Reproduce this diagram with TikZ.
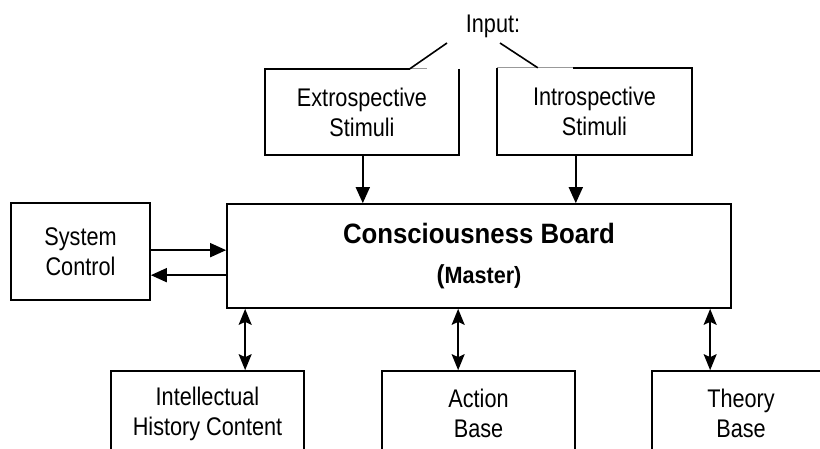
\documentclass[tikz,border=0pt]{standalone}
\usepackage{fontspec}
\setmainfont{Liberation Sans}[FakeStretch=0.85, BoldFeatures={FakeStretch=0.92}]
\usetikzlibrary{arrows.meta,calc}

\tikzset{
  boxline/.style={line width=1.7pt, line join=miter},
  box/.style={boxline, draw, align=center, inner sep=0pt},
  openbox/.style={align=center, inner sep=0pt},
  arr/.style={line width=1.7pt, -{Triangle[length=16pt,width=14pt]}},
  darr/.style={line width=1.7pt, {Stealth[length=16pt,width=13pt,inset=3pt]}-{Stealth[length=16pt,width=13pt,inset=3pt]}},
  feed/.style={line width=1.6pt},
  faint/.style={line width=1.1pt, draw=black!40},
  txt/.style={font=\fontsize{25.5}{30}\selectfont},
}

\begin{document}
\begin{tikzpicture}[x=1pt, y=-1pt]
  \useasboundingbox (0,0) rectangle (820,448);

  % input label and its two feed lines
  \node[txt, anchor=base] (input) at (493,32) {Input:};
  \coordinate (in1) at (447,43);
  \coordinate (in2) at (500,43);

  % stimulus boxes (top edges drawn piecewise below)
  \node[openbox, txt, minimum width=194, minimum height=86] (extro) at (362,112) {Extrospective\\Stimuli};
  \node[openbox, txt, minimum width=195, minimum height=87] (intro) at (594.5,111.5) {Introspective\\Stimuli};

  \draw[boxline] (extro.north east) -- (extro.south east) -- (extro.south west) -- (extro.north west) -- ($(extro.north west)+(145,0)$);
  \draw[faint] ($(extro.north west)+(145,0)$) -- ($(extro.north west)+(162,0)$);
  \draw[boxline] (intro.north west) -- (intro.south west) -- (intro.south east) -- (intro.north east) -- ($(intro.north east)+(-119,0)$);
  \draw[faint] (intro.north west) -- ($(intro.north east)+(-119,0)$);

  \draw[feed] (in1) -- ($(extro.north west)+(145,0)$);
  \draw[feed] (in2) -- ($(intro.north west)+(41,0)$);

  % central board
  \node[box, minimum width=504, minimum height=104, font=\bfseries\fontsize{28}{40}\selectfont] (board) at (479,256)
    {Consciousness Board\\{\fontsize{26}{40}\selectfont(}{\fontsize{23.5}{40}\selectfont Master)}};

  % system control
  \node[box, txt, minimum width=139, minimum height=97] (sysctl) at (80.5,251.5) {System\\Control};

  % knowledge bases along the bottom
  \node[box, txt, minimum width=193, minimum height=85] (intel) at (207.5,413.5) {Intellectual\\History Content};
  \node[box, txt, minimum width=193, minimum height=85] (action) at (478.5,413.5) {Action\\Base};
  \node[box, txt, minimum width=178, minimum height=85] (theory) at (741,413.5) {Theory\\Base};

  % stimuli into the board
  \path (extro.south west) ++(98,0) coordinate (e1);
  \path (intro.south west) ++(79,0) coordinate (i1);
  \draw[arr] (e1) -- (e1 |- board.north);
  \draw[arr] (i1) -- (i1 |- board.north);

  % control loop
  \path (sysctl.north east) ++(0,48) coordinate (s1);
  \path (sysctl.north east) ++(0,73) coordinate (s2);
  \draw[arr] (s1) -- (s1 -| board.west);
  \draw[arr] (s2 -| board.west) -- (s2);

  % board <-> bases
  \path (board.south west) ++(19,0) coordinate (b1);
  \path (board.south west) ++(232,0) coordinate (b2);
  \path (board.south west) ++(484,0) coordinate (b3);
  \draw[darr] (b1) -- (b1 |- intel.north);
  \draw[darr] (b2) -- (b2 |- action.north);
  \draw[darr] (b3) -- (b3 |- theory.north);
\end{tikzpicture}
\end{document}
